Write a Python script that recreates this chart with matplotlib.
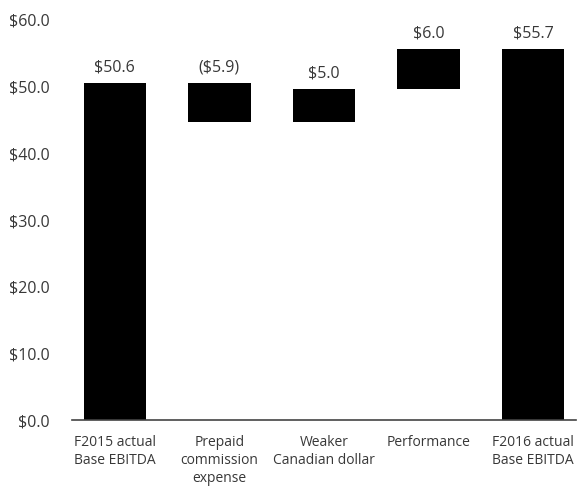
import matplotlib
matplotlib.use("Agg")
import matplotlib.pyplot as plt

categories = ["F2015 actual\nBase EBITDA", "Prepaid\ncommission\nexpense",
              "Weaker\nCanadian dollar", "Performance", "F2016 actual\nBase EBITDA"]
changes = [50.6, -5.9, 5.0, 6.0, 55.7]
kinds = ["total", "delta", "delta", "delta", "total"]
labels = ["$50.6", "($5.9)", "$5.0", "$6.0", "$55.7"]
yticks = [0, 10, 20, 30, 40, 50, 60]

plt.rcParams['font.family'] = ['Open Sans', 'DejaVu Sans']
fig = plt.figure(figsize=(5.79, 4.88), dpi=100)
ax = fig.add_axes([72/579, 68/488, 504/579, 400/488])

bottoms, heights = [], []
running = 0.0
for v, k in zip(changes, kinds):
    if k == "total":
        bottoms.append(0.0); heights.append(v); running = v
    else:
        if v >= 0:
            bottoms.append(running); heights.append(v)
        else:
            bottoms.append(running + v); heights.append(-v)
        running += v

x = list(range(len(categories)))
ax.bar(x, heights, bottom=bottoms, width=0.6, color="black")
for xi, b, h, lab in zip(x, bottoms, heights, labels):
    ax.annotate(lab, (xi, b + h), xytext=(0, 5), textcoords="offset points",
                ha="center", va="bottom", fontsize=11.5, color="#383838")

ax.set_xlim(-0.41, 4.41)
ax.set_ylim(0, 60)
ax.set_yticks(yticks)
ax.set_yticklabels([f"${t:.1f}" for t in yticks], fontsize=11.5, color="#383838")
ax.set_xticks(x)
ax.set_xticklabels(categories, fontsize=10, color="#383838", linespacing=1.28, va="top")
ax.tick_params(length=0)
ax.tick_params(axis="x", pad=11)
ax.tick_params(axis="y", pad=16)
for s in ["top", "right", "left"]:
    ax.spines[s].set_visible(False)
ax.spines["bottom"].set_color("#444444")
ax.spines["bottom"].set_linewidth(1.2)

fig.savefig("out.png", dpi=100)
